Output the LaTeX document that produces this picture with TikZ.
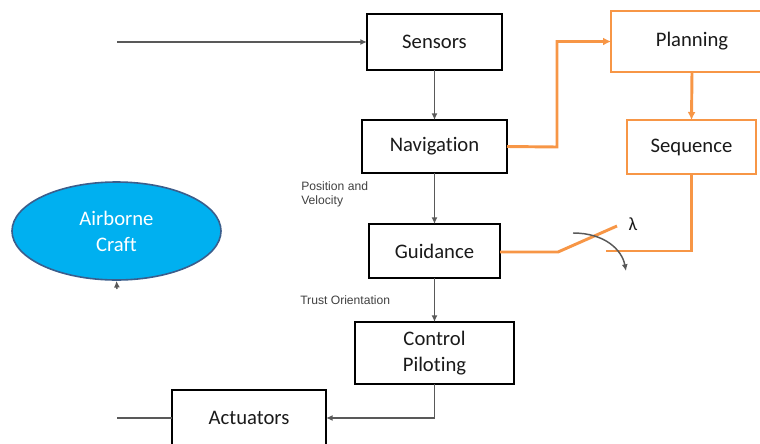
\documentclass[tikz,border=0pt]{standalone}
\usepackage{fontspec}
\setmainfont{Carlito}[Ligatures=NoCommon]
\newfontfamily\smallsans{Liberation Sans}
\usetikzlibrary{arrows.meta,shapes.geometric}
\definecolor{conn}{HTML}{595959}
\definecolor{orng}{HTML}{F79646}
\definecolor{cyanfill}{HTML}{00B0F0}
\definecolor{ellborder}{HTML}{3B5E8C}
\definecolor{boxtext}{HTML}{1A1A1A}
\tikzset{
  blockbox/.style={draw=black, line width=2pt, fill=white, inner sep=0pt, outer sep=0pt,
    font=\fontsize{15.5}{19}\selectfont, text=boxtext, align=center},
  orangebox/.style={draw=orng, line width=2.2pt, fill=white, inner sep=0pt, outer sep=0pt,
    font=\fontsize{15.5}{19}\selectfont, text=boxtext, align=center},
  conline/.style={draw=conn, line width=1.1pt},
  conarrow/.style={conline, -{Latex[length=5pt,width=4.5pt]}},
  orline/.style={draw=orng, line width=2.2pt},
  orarrow/.style={orline, -{Latex[length=6pt,width=6pt]}},
  smalllabel/.style={font=\smallsans\fontsize{9.1}{10.8}\selectfont, text=black!75, align=left, anchor=north west, inner sep=0pt}
}
\begin{document}
\begin{tikzpicture}[x=0.75pt,y=-0.75pt]
\useasboundingbox (0,0) rectangle (760,443);
% boxes
\node[blockbox, minimum width=101.25pt, minimum height=42pt] (sens) at (434.5,42) {Sensors};
\node[orangebox, minimum width=121.5pt, minimum height=45.75pt] (plan) at (692,41.5) {Planning};
\node[blockbox, minimum width=108.75pt, minimum height=39.75pt] (nav) at (434.5,146.5) {Navigation};
\node[orangebox, minimum width=96.75pt, minimum height=40.5pt] (seq) at (691.5,147) {Sequence};
\node[blockbox, minimum width=98.25pt, minimum height=40.5pt] (guid) at (434.5,251) {Guidance};
\node[blockbox, minimum width=119.25pt, minimum height=46.5pt] (ctrl) at (434.5,353) {Control\\Piloting};
\node[blockbox, minimum width=115.5pt, minimum height=42pt] (act) at (249,418) {Actuators};
\node[ellipse, draw=ellborder, line width=1.2pt, fill=cyanfill, text=white, inner sep=0pt,
      minimum width=156.75pt, minimum height=73.5pt, align=center,
      font=\fontsize{15.5}{19.5}\selectfont] (craft) at (116.5,231) {Airborne\\Craft};
% free ends
\coordinate (inS) at (117,42);
\coordinate (outA) at (117,418);
\coordinate (craftIn) at (117,289);
\coordinate (navTurn) at (557,147);
\coordinate (ctrlTurn) at (434.5,418);
\coordinate (swL) at (558,252);
\coordinate (swT) at (617,226);
\coordinate (swR) at (606,251);
\coordinate (curvA) at (573,233);
\coordinate (curvB) at (626,271);
% connectors
\draw[conarrow] (inS) -- (sens.west);
\draw[conarrow] (sens.south) -- (nav.north);
\draw[conarrow] (nav.south) -- (guid.north);
\draw[conarrow] (guid.south) -- (ctrl.north);
\draw[conarrow] (ctrl.south) -- (ctrlTurn) -- (act.east);
\draw[conline] (act.west) -- (outA);
\draw[conarrow] (craftIn) -- (craft.south);
% orange paths
\draw[orarrow] (nav.east) -- (navTurn) |- (plan.west);
\draw[orarrow] (plan.south) -- (seq.north);
\draw[orline] (seq.south) |- (swR);
\draw[orline] (guid.east |- swL) -- (swL) -- (swT);
% switch arrow
\draw[draw=conn, line width=1.1pt, -{Latex[length=5pt,width=4.5pt]}] (curvA) .. controls (605,233) and (622,250) .. (curvB);
\node[font=\fontsize{14}{16}\selectfont, text=boxtext] (lam) at (633,224) {λ};
% labels
\node[smalllabel] (lblpv) at (301,181) {Position and\\Velocity};
\node[smalllabel] (lblto) at (300,295) {Trust Orientation};
\end{tikzpicture}
\end{document}
